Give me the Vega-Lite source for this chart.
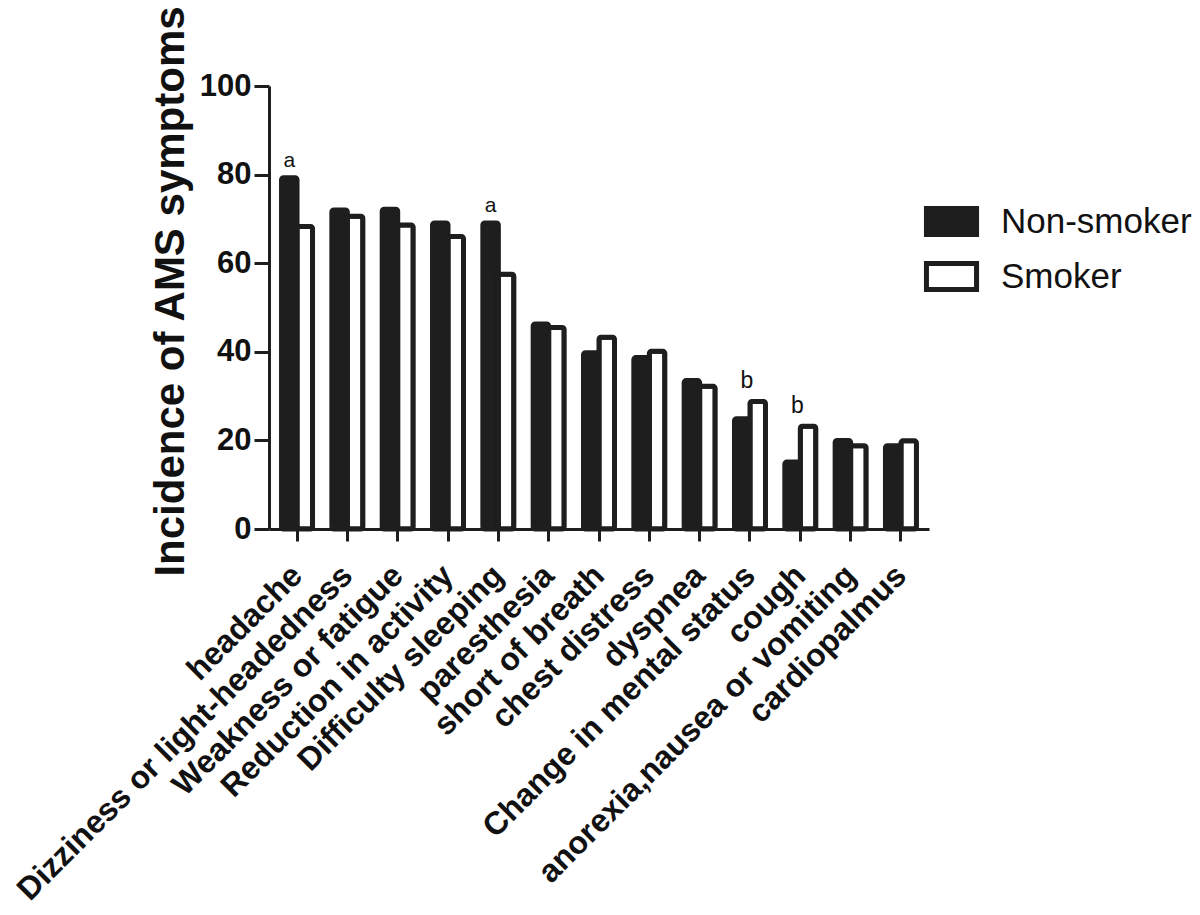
{
  "$schema": "https://vega.github.io/schema/vega-lite/v6.json",
  "autosize": {"type": "none"},
  "padding": {"left": 269, "top": 86, "right": 271, "bottom": 386},
  "width": 660,
  "height": 443,
  "background": "white",
  "config": {
    "view": {"stroke": null},
    "font": "Liberation Sans"
  },
  "datasets": {
    "bars": [
      {"symptom": "headache", "group": "Non-smoker", "value": 79.3},
      {"symptom": "headache", "group": "Smoker", "value": 68.3},
      {"symptom": "Dizziness or light-headedness", "group": "Non-smoker", "value": 72.0},
      {"symptom": "Dizziness or light-headedness", "group": "Smoker", "value": 70.6},
      {"symptom": "Weakness or fatigue", "group": "Non-smoker", "value": 72.2},
      {"symptom": "Weakness or fatigue", "group": "Smoker", "value": 68.6},
      {"symptom": "Reduction in activity", "group": "Non-smoker", "value": 69.1},
      {"symptom": "Reduction in activity", "group": "Smoker", "value": 66.0},
      {"symptom": "Difficulty sleeping", "group": "Non-smoker", "value": 69.1},
      {"symptom": "Difficulty sleeping", "group": "Smoker", "value": 57.5},
      {"symptom": "paresthesia", "group": "Non-smoker", "value": 46.3},
      {"symptom": "paresthesia", "group": "Smoker", "value": 45.5},
      {"symptom": "short of breath", "group": "Non-smoker", "value": 39.8},
      {"symptom": "short of breath", "group": "Smoker", "value": 43.3},
      {"symptom": "chest distress", "group": "Non-smoker", "value": 38.7},
      {"symptom": "chest distress", "group": "Smoker", "value": 40.1},
      {"symptom": "dyspnea", "group": "Non-smoker", "value": 33.5},
      {"symptom": "dyspnea", "group": "Smoker", "value": 32.2},
      {"symptom": "Change in mental status", "group": "Non-smoker", "value": 24.9},
      {"symptom": "Change in mental status", "group": "Smoker", "value": 28.8},
      {"symptom": "cough", "group": "Non-smoker", "value": 15.1},
      {"symptom": "cough", "group": "Smoker", "value": 23.2},
      {"symptom": "anorexia,nausea or vomiting", "group": "Non-smoker", "value": 20.0},
      {"symptom": "anorexia,nausea or vomiting", "group": "Smoker", "value": 18.8},
      {"symptom": "cardiopalmus", "group": "Non-smoker", "value": 18.8},
      {"symptom": "cardiopalmus", "group": "Smoker", "value": 19.9}
    ],
    "notes": [
      {"symptom": "headache", "group": "Non-smoker", "value": 79.3, "letter": "a", "kind": "bar"},
      {"symptom": "Difficulty sleeping", "group": "Non-smoker", "value": 69.1, "letter": "a", "kind": "bar"},
      {"symptom": "Change in mental status", "group": "Smoker", "value": 28.8, "letter": "b", "kind": "pair"},
      {"symptom": "cough", "group": "Smoker", "value": 23.2, "letter": "b", "kind": "pair"}
    ]
  },
  "layer": [
    {
      "data": {"name": "bars"},
      "mark": {"type": "bar", "stroke": "#1e1e1e", "strokeWidth": 5, "cornerRadius": 2, "strokeJoin": "round"},
      "encoding": {
        "x": {
          "field": "symptom", "type": "nominal", "sort": null,
          "scale": {"paddingInner": 0.384, "paddingOuter": 0.249},
          "axis": {
            "title": null,
            "labelAngle": -45,
            "labelAlign": "right",
            "labelBaseline": "middle",
            "labelFont": "Liberation Sans",
            "labelFontWeight": "bold",
            "labelFontSize": 32,
            "labelColor": "#111",
            "labelPadding": 29,
            "labelLimit": 1000,
            "labelOverlap": false,
            "domainColor": "#1e1e1e",
            "domainWidth": 3,
            "tickColor": "#1e1e1e",
            "tickWidth": 3,
            "tickSize": 12
          }
        },
        "xOffset": {"field": "group", "type": "nominal", "scale": {"paddingInner": 0, "paddingOuter": 0}},
        "y": {
          "field": "value", "type": "quantitative",
          "scale": {"domain": [0, 100], "nice": false},
          "axis": {
            "title": "Incidence of AMS symptoms",
            "titleFont": "Liberation Sans",
            "titleFontWeight": "bold",
            "titleFontSize": 42,
            "titleColor": "#111",
            "titleAngle": -90,
            "titleAlign": "center",
            "titleBaseline": "middle",
            "titleX": -99,
            "titleY": 205,
            "values": [0, 20, 40, 60, 80, 100],
            "grid": false,
            "labelFont": "Liberation Sans",
            "labelFontWeight": "bold",
            "labelFontSize": 31,
            "labelColor": "#111",
            "labelPadding": 3,
            "domainColor": "#1e1e1e",
            "domainWidth": 3,
            "tickColor": "#1e1e1e",
            "tickWidth": 3,
            "tickSize": 15
          }
        },
        "fill": {
          "field": "group", "type": "nominal",
          "scale": {"domain": ["Non-smoker", "Smoker"], "range": ["#1e1e1e", "#ffffff"]},
          "legend": {
            "title": null,
            "orient": "none",
            "legendX": 665,
            "legendY": 118,
            "padding": 0,
            "symbolType": "M-1.67,-0.87L1.67,-0.87L1.67,0.87L-1.67,0.87Z",
            "symbolSize": 900,
            "symbolStrokeColor": "#1e1e1e",
            "symbolStrokeWidth": 5,
            "symbolOpacity": 1,
            "labelFont": "Liberation Sans",
            "labelFontSize": 35,
            "labelColor": "#111",
            "labelOffset": 32,
            "labelLimit": 500,
            "rowPadding": 8
          }
        }
      }
    },
    {
      "data": {"name": "notes"},
      "transform": [{"filter": "datum.kind === 'bar'"}],
      "mark": {"type": "text", "baseline": "bottom", "dy": -7, "fontSize": 21, "font": "Liberation Sans", "color": "#111"},
      "encoding": {
        "x": {"field": "symptom", "type": "nominal", "sort": null},
        "xOffset": {"field": "group", "type": "nominal"},
        "y": {"field": "value", "type": "quantitative"},
        "text": {"field": "letter"}
      }
    },
    {
      "data": {"name": "notes"},
      "transform": [{"filter": "datum.kind === 'pair'"}],
      "mark": {"type": "text", "baseline": "bottom", "dy": -8, "dx": -3, "fontSize": 23, "font": "Liberation Sans", "color": "#111"},
      "encoding": {
        "x": {"field": "symptom", "type": "nominal", "sort": null},
        "y": {"field": "value", "type": "quantitative"},
        "text": {"field": "letter"}
      }
    }
  ]
}
